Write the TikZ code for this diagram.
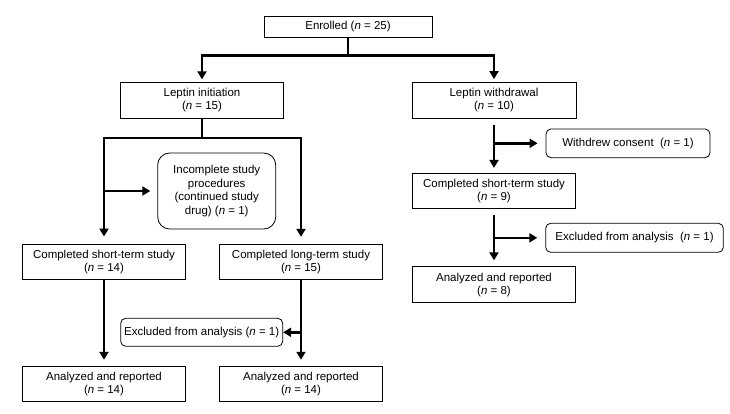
\documentclass[tikz,border=0pt]{standalone}
\usepackage{fontspec}
\setmainfont{Liberation Sans}
\usetikzlibrary{arrows.meta}
\begin{document}
\begin{tikzpicture}[x=1pt,y=-1pt,
  box/.style={draw, line width=0.8pt, minimum height=35.5pt, minimum width=163pt,
    align=center, inner sep=1pt, font=\fontsize{11.5}{13}\selectfont},
  rbox/.style={box, rounded corners=5pt},
  link/.style={line width=2.6pt},
  arr/.style={link, -{Triangle[length=8pt,width=9pt]}}]
\useasboundingbox (0,0) rectangle (730,413);

% nodes
\node[box, minimum width=168pt, minimum height=21pt] (enr) at (348,27) {Enrolled (\textit{n} = 25)};
\node[box] (li) at (202,100.5) {Leptin initiation\\(\textit{n} = 15)};
\node[box, minimum width=164pt, minimum height=36pt] (lw) at (494,100.5) {Leptin withdrawal\\(\textit{n} = 10)};
\node[rbox, minimum width=164pt, minimum height=28.7pt] (wc) at (628,143.3) {Withdrew consent\ \ (\textit{n} = 1)};
\node[box, minimum height=35pt] (cs9) at (494,190.8) {Completed short-term study\\(\textit{n} = 9)};
\node[rbox, minimum width=177.6pt, minimum height=29pt] (exr) at (634.5,237.8) {Excluded from analysis\ \ (\textit{n} = 1)};
\node[box, minimum height=36pt] (an8) at (494,284.7) {Analyzed and reported\\(\textit{n} = 8)};

\node[rbox, rounded corners=12pt, minimum width=118pt, minimum height=76pt,
  font=\fontsize{11.5}{13.7}\selectfont] (inc) at (216.7,191) {Incomplete study\\procedures\\(continued study\\drug) (\textit{n} = 1)};
\node[box, minimum width=162.3pt] (cs14) at (104,261.7) {Completed short-term study\\(\textit{n} = 14)};
\node[box, minimum width=163pt] (cl15) at (301,262) {Completed long-term study\\(\textit{n} = 15)};
\node[rbox, minimum width=162pt, minimum height=28pt] (exl) at (201.7,332.3) {Excluded from analysis (\textit{n} = 1)};
\node[box, minimum width=162.3pt, minimum height=35.7pt] (an14l) at (104,384) {Analyzed and reported\\(\textit{n} = 14)};
\node[box, minimum width=163.5pt, minimum height=35.7pt] (an14r) at (301,384) {Analyzed and reported\\(\textit{n} = 14)};

% junctions
\coordinate (j1) at (348,55.7);
\coordinate (j2) at (202,138);

% connectors
\draw[link] (enr.south) -- (j1);
\draw[arr, shorten >=3pt] (j1) -| (li.north);
\draw[arr, shorten >=3pt] (j1) -| (lw.north);

\draw[link] (li.south) -- (j2);
\draw[arr, shorten >=7pt] (j2) -| (cs14.north);
\draw[arr, shorten >=7pt] (j2) -| (cl15.north);
\draw[arr, shorten >=7pt] (cs14.north |- inc.west) -- (inc.west);

\draw[arr, shorten <=6pt, shorten >=5pt] (lw.south) -- (cs9.north);
\draw[arr, shorten >=8pt] (lw.south |- wc.west) -- (wc.west);
\draw[arr, shorten <=6pt, shorten >=6pt] (cs9.south) -- (an8.north);
\draw[arr, shorten >=8pt] (cs9.south |- exr.west) -- (exr.west);

\draw[arr, shorten >=6pt] (cs14.south) -- (an14l.north);
\draw[arr, shorten >=6pt] (cl15.south) -- (an14r.north);
\draw[arr] (cl15.south |- exl.east) -- (exl.east);
\end{tikzpicture}
\end{document}
